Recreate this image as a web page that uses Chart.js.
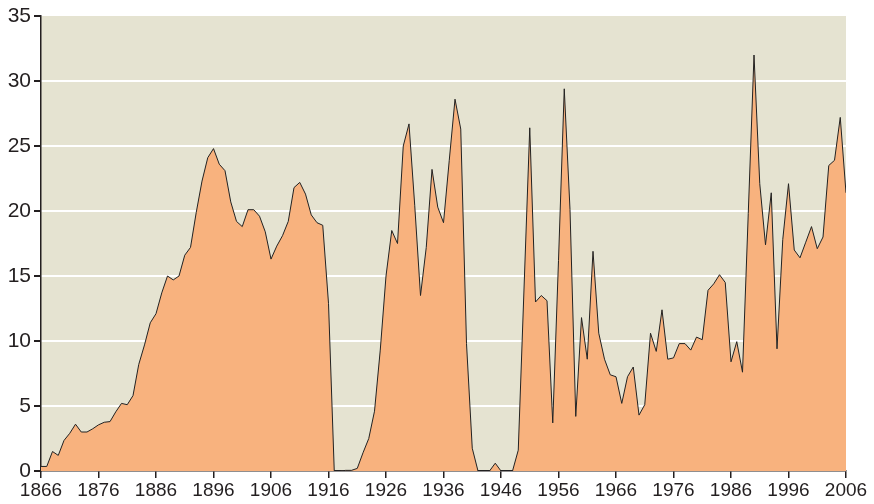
<!DOCTYPE html>
<html>
<head>
<meta charset="utf-8">
<script src="https://cdn.jsdelivr.net/npm/chart.js@4/dist/chart.umd.min.js"></script>
<style>
    html, body { margin: 0; padding: 0; background: #fff; }
    #wrap { width: 874px; height: 504px; }
</style>
</head>
<body>
<div id="wrap"><canvas id="chart" width="874" height="504"></canvas></div>
<script>
// years 1866..2006, one value per year
const firstYear = 1866;
const values = [
    0.35, 0.35, 1.5, 1.2, 2.35, 2.9, 3.6, 3.0, 3.0, 3.25,          // 1866-1875
    3.55, 3.75, 3.8, 4.55, 5.2, 5.1, 5.8, 8.2, 9.7, 11.4,          // 1876-1885
    12.1, 13.7, 15.0, 14.7, 15.0, 16.6, 17.2, 19.9, 22.3, 24.1,    // 1886-1895
    24.8, 23.6, 23.1, 20.7, 19.2, 18.8, 20.1, 20.1, 19.6, 18.4,    // 1896-1905
    16.3, 17.3, 18.1, 19.2, 21.8, 22.2, 21.3, 19.7, 19.1, 18.9,    // 1906-1915
    12.9, 0, 0, 0.05, 0.05, 0.2, 1.4, 2.5, 4.6, 9.3,               // 1916-1925
    15.0, 18.5, 17.5, 25.0, 26.7, 20.4, 13.5, 17.2, 23.2, 20.3,    // 1926-1935
    19.1, 23.9, 28.6, 26.3, 9.8, 1.75, 0, 0, 0, 0.6,               // 1936-1945
    0, 0, 0, 1.6, 14.0, 26.4, 13.0, 13.5, 13.1, 3.7,               // 1946-1955
    16.2, 29.4, 20.1, 4.2, 11.8, 8.6, 16.9, 10.6, 8.6, 7.4,        // 1956-1965
    7.25, 5.2, 7.25, 8.0, 4.3, 5.1, 10.6, 9.2, 12.4, 8.6,          // 1966-1975
    8.7, 9.8, 9.8, 9.3, 10.3, 10.1, 13.9, 14.4, 15.1, 14.5,        // 1976-1985
    8.4, 9.95, 7.6, 19.8, 32.0, 22.1, 17.4, 21.4, 9.4, 17.8,       // 1986-1995
    22.1, 17.0, 16.4, 17.6, 18.8, 17.1, 18.0, 23.5, 23.9, 27.2,    // 1996-2005
    21.4                                                           // 2006
];
const years = values.map((v, i) => firstYear + i);
const xTickLabels = [1866, 1876, 1886, 1896, 1906, 1916, 1926, 1936, 1946, 1956, 1966, 1976, 1986, 1996, 2006];
const yTickLabels = [0, 5, 10, 15, 20, 25, 30, 35];

const BG = '#e5e3d1';
const FILL = '#f8b27e';
const INK = '#231f20';

const plotBackground = {
    id: 'plotBackground',
    beforeDraw(chart) {
        const { ctx, chartArea: a } = chart;
        ctx.save();
        ctx.fillStyle = BG;
        ctx.fillRect(a.left, a.top, a.right - a.left, a.bottom - a.top);
        ctx.restore();
    }
};

const ctx = document.getElementById('chart').getContext('2d');
new Chart(ctx, {
    type: 'line',
    data: {
        datasets: [{
            data: years.map((y, i) => ({ x: y, y: values[i] })),
            fill: 'origin',
            backgroundColor: FILL,
            borderColor: '#222',
            borderWidth: 1,
            pointRadius: 0,
            tension: 0
        }]
    },
    options: {
        responsive: false,
        animation: false,
        layout: { padding: { top: 16, right: 28, left: 0, bottom: 0 } },
        plugins: { legend: { display: false }, tooltip: { enabled: false } },
        scales: {
            x: {
                type: 'linear',
                min: xTickLabels[0],
                max: xTickLabels[xTickLabels.length - 1],
                afterBuildTicks: (scale) => {
                    scale.ticks = xTickLabels.map(v => ({ value: v }));
                },
                afterFit: (scale) => { scale.height = 33; },
                ticks: {
                    autoSkip: false,
                    maxRotation: 0,
                    padding: 1,
                    color: INK,
                    font: { family: 'Liberation Sans, Arial, sans-serif', size: 19 },
                    callback: (v) => String(v)
                },
                grid: {
                    drawOnChartArea: false,
                    drawTicks: true,
                    tickLength: 7,
                    tickColor: INK,
                    lineWidth: 1.5
                },
                border: { color: INK, width: 1.5 }
            },
            y: {
                min: 0,
                max: 35,
                afterBuildTicks: (scale) => {
                    scale.ticks = yTickLabels.map(v => ({ value: v }));
                },
                afterFit: (scale) => { scale.width = 41; },
                ticks: {
                    padding: 3,
                    color: INK,
                    font: { family: 'Liberation Sans, Arial, sans-serif', size: 21 },
                    callback: (v) => String(v)
                },
                grid: {
                    color: (c) => (c.tick && (c.tick.value === 0 || c.tick.value === 35)) ? 'rgba(0,0,0,0)' : '#ffffff',
                    lineWidth: 2,
                    tickLength: 7,
                    tickColor: INK
                },
                border: { color: INK, width: 1.5 }
            }
        }
    },
    plugins: [plotBackground]
});
</script>
</body>
</html>
